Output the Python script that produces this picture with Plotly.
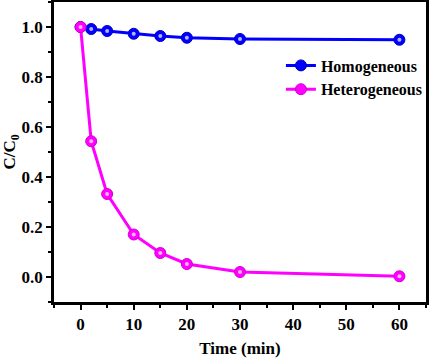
import plotly.graph_objects as go

time_min = [0, 2, 5, 10, 15, 20, 30, 60]
homogeneous = [1.0, 0.992, 0.984, 0.973, 0.964, 0.957, 0.952, 0.949]
heterogeneous = [1.0, 0.543, 0.332, 0.170, 0.096, 0.052, 0.020, 0.003]

FONT = "Liberation Serif"

fig = go.Figure()
for name, vals, col, dark in [("Homogeneous", homogeneous, "#0000ff", "#0000c0"),
                              ("Heterogeneous", heterogeneous, "#ff00ff", "#d000d0")]:
    fig.add_trace(go.Scatter(
        x=time_min, y=vals, name=name, mode="lines+markers",
        line=dict(color=col, width=3),
        marker=dict(symbol="circle", size=11, color=col, line=dict(color=dark, width=1)),
    ))
    fig.add_trace(go.Scatter(
        x=time_min, y=vals, mode="markers", showlegend=False, hoverinfo="skip",
        marker=dict(symbol="circle", size=4, color="rgba(255,255,255,0.7)"),
    ))

axis_common = dict(
    showline=True, linecolor="black", linewidth=2.5, mirror=True,
    ticks="outside", ticklen=5, tickwidth=2, tickcolor="black",
    showgrid=False, zeroline=False, automargin=False,
    tickfont=dict(family=FONT, size=17, color="black", weight="bold"),
)

fig.update_xaxes(range=[-5, 65], tickvals=[0, 10, 20, 30, 40, 50, 60],
                 minor=dict(ticks="outside", ticklen=3, tickwidth=2, tickcolor="black", dtick=5, tick0=5),
                 title=dict(text="Time (min)", font=dict(family=FONT, size=17, color="black", weight="bold"), standoff=10),
                 **axis_common)
fig.update_yaxes(range=[-0.1, 1.1], tickvals=[0.0, 0.2, 0.4, 0.6, 0.8, 1.0], tickformat=".1f",
                 minor=dict(ticks="outside", ticklen=3, tickwidth=2, tickcolor="black", dtick=0.2, tick0=0.1),
                 title=dict(text="C/C<sub>0</sub>", font=dict(family=FONT, size=17, color="black", weight="bold"), standoff=4),
                 **axis_common)

fig.update_layout(
    width=429, height=358,
    margin=dict(l=54, r=3, t=2, b=56, autoexpand=False),
    paper_bgcolor="white", plot_bgcolor="white",
    legend=dict(x=0.61, y=0.845, xanchor="left", yanchor="top",
                font=dict(family=FONT, size=16, color="black", weight="bold"),
                bgcolor="rgba(0,0,0,0)", tracegroupgap=0, itemwidth=30),
)

fig.write_html("out.html", config={"displayModeBar": False},
               post_script="document.body.style.margin='0';document.body.style.overflow='hidden';"
                           "document.documentElement.style.overflow='hidden';")
